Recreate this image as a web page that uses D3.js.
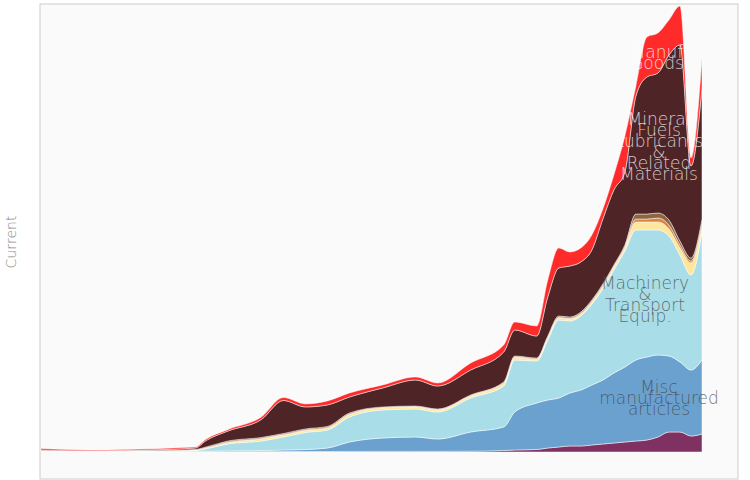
<!DOCTYPE html>
<html><head><meta charset="utf-8">
<script src="https://cdn.jsdelivr.net/npm/d3@7/dist/d3.min.js"></script>
<style>body{margin:0;background:#fff}svg{display:block}</style>
</head><body><svg id="c" width="750" height="480"></svg>
<script>
const years = [1960,1963,1966,1969,1972,1974,1975,1977,1980,1982,1984,1986,1988,1991,1994,1996,1999,2002,2003,2005,2006,2007,2008,2009,2010,2011,2012,2013,2014,2015,2016,2017,2018,2019,2020];
const categories = ["Commodities n.e.c.","Misc manufactured articles","Machinery & Transport Equip.","Chemicals","Beverages & Tobacco","Crude Materials","Mineral Fuels Lubricants & Related Materials","Manuf Goods"];
const commodities = [0.3,0.2,0.2,0.2,0.3,0.3,0.3,0.3,0.4,0.5,0.5,0.5,0.6,0.7,0.7,0.7,0.8,1.5,2,2.5,4,5,6,6,7,8,9,10,11,12,15,20,20,16,18];
const miscManuf  = [0.3,0.2,0.2,0.3,0.3,0.4,0.5,0.8,1,1.5,2,3.5,9.4,13.3,14.3,12.3,19.2,23.5,38,46.5,48,49,53,56,60,64,70,75,81,83,82,76,70,66,74];
const machinery  = [0.3,0.2,0.2,0.3,0.5,0.8,2.5,7,9.6,13,17,18,25,28,28,27,34,41,52,42,60,78,72,74,81,91,103,116,130,127,125,120,107,95,128];
const chemicals  = [0.3,0.2,0.2,0.3,0.3,0.5,1,1.5,2,2,2,2,2.5,2,2,2,2,2.5,2.5,1.5,2,2,2,2,2,2.5,3,3,8,8,8,7,7,12,6];
const beverages  = [0.2,0.1,0.1,0.1,0.2,0.2,0.3,0.5,0.5,0.5,0.6,0.6,0.5,0.5,0.5,0.5,0.5,0.7,0.7,0.6,0.7,0.7,0.7,0.7,0.8,1,1,1.5,3,3,4,4,3,2,3];
const crude      = [0.2,0.1,0.1,0.2,0.2,0.3,0.5,1,1,1,1,1,1,0.5,0.5,0.5,0.5,0.8,0.8,0.9,1.3,1.3,1.3,1.3,1.2,1.5,1,1.5,5,5,5,5,4,3,4];
const fuels      = [0.5,0.3,0.3,0.5,1,1.5,6.5,10,18,33,22,21.5,16,19,26,23,25,30,26,22,39,48,51,50,50,65,75,73,118,137,140,165,196,92,131];
const manufGoods = [1.5,1,0.8,1,1.3,1,1.4,1.5,2.5,3,3,4,4,3,3,3,7,7,8,10,17,20,14,14,15,10,15,36,10,40,40,35,39,8,30];
const series = [commodities,miscManuf,machinery,chemicals,beverages,crude,fuels,manufGoods];
const colors = ["#7f3161","#6ba1cf","#a9dde7","#fde79c","#e3843c","#8c6641","#4e2426","#ff2a2a"];

const rows = years.map((y,i)=>{const r={year:y};categories.forEach((c,k)=>r[c]=series[k][i]);return r;});
const svg = d3.select("#c");
const L=40,R=738,T=4,B=479;
svg.append("rect").attr("x",L).attr("y",T).attr("width",R-L).attr("height",B-T).attr("fill","#fafafa").attr("stroke","#cccccc");
const x = d3.scaleLinear().domain([1960,2020]).range([41,702]);
const y = d3.scaleLinear().domain([0,448]).range([452,4]);
const stack = d3.stack().keys(categories)(rows);
const area = d3.area().x(d=>x(d.data.year)).y0(d=>y(d[0])).y1(d=>y(d[1])).curve(d3.curveMonotoneX);
svg.append("g").selectAll("path").data(stack).join("path")
  .attr("d",area).attr("fill",(d,i)=>colors[i]).attr("stroke","#fff").attr("stroke-width",0.6).attr("stroke-opacity",0.8);

function label(lines,cx,cy,fill,op){
  const t=svg.append("text").attr("text-anchor","middle").attr("font-family","DejaVu Sans").attr("font-weight",200).attr("font-size",17)
    .attr("fill",fill).attr("fill-opacity",op);
  lines.forEach((s,i)=>t.append("tspan").attr("x",cx).attr("y",cy+i*11).text(s));
}
label(["Manuf","Goods"],657,58,"#ffffff",0.75);
label(["Mineral","Fuels","Lubricants","&","Related","Materials"],659,125,"#ffffff",0.75);
label(["Machinery","&","Transport","Equip."],645,289,"#444444",0.75);
label(["Misc","manufactured","articles"],659,393,"#444444",0.75);

svg.append("text").attr("transform","translate(16,242) rotate(-90)").attr("text-anchor","middle")
  .attr("font-family","DejaVu Sans").attr("font-weight",200).attr("font-size",14).attr("fill","#888").text("Current");
</script></body></html>
